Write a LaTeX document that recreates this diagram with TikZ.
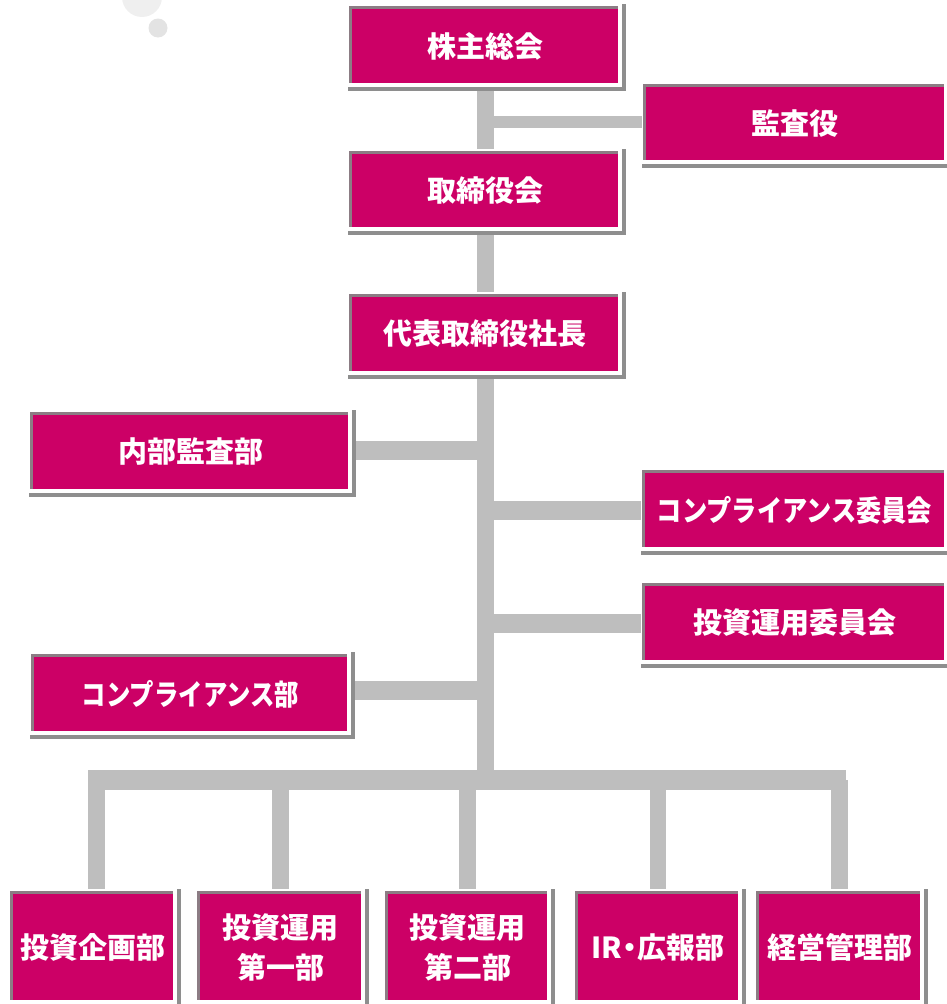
\documentclass[tikz,border=0pt]{standalone}
\usepackage{fontspec}
\usepackage{graphicx}
\newfontfamily\cjk{Noto Sans CJK JP}
\usetikzlibrary{calc}
\definecolor{mag}{HTML}{CC0066}
\definecolor{conng}{HTML}{BEBEBE}
\definecolor{shadg}{HTML}{8E8E8E}
\definecolor{edgeg}{HTML}{8C7C84}
\definecolor{circg}{HTML}{EFEFEF}
\pgfdeclarelayer{connlayer}
\pgfdeclarelayer{shadlayer}
\pgfsetlayers{connlayer,shadlayer,main}
\tikzset{
  orgbox/.style={rectangle, fill=mag, text=white, inner sep=0pt,
    font=\cjk\bfseries\fontsize{29}{40}\selectfont, align=center},
  conn/.style={draw=conng, line cap=butt},
}
\newcommand\obox[6]{\node[orgbox, minimum width=#4, minimum height=#5] (#1) at (#2,#3) {#6};}
\begin{document}
\begin{tikzpicture}[x=1pt,y=-1pt]
\useasboundingbox (0,0) rectangle (946,1004);
% decorative circles
\fill[circg] (142,-3) circle[radius=20pt];
\fill[circg!95!black] (158,28) circle[radius=9.5pt];
% boxes
\obox{n1}{485}{46}{266}{74}{株主総会}
\obox{audit}{795}{123.5}{298}{73}{監査役}
\obox{board}{485}{190.5}{266}{73}{取締役会}
\obox{ceo}{485}{334}{266}{74}{代表取締役社長}
\obox{naibu}{190.5}{452}{315}{74}{内部監査部}
\obox{ccom}{794.5}{510}{299}{74}{\scalebox{0.87}[1]{コンプライアンス委員会}}
\obox{icom}{794.5}{623}{299}{74}{投資運用委員会}
\obox{cdept}{190.5}{694}{313}{74}{\scalebox{0.84}[1]{コンプライアンス部}}
\obox{b1}{93}{947}{160}{106}{投資企画部}
\obox{b2}{280.5}{947}{161}{106}{投資運用\\第一部}
\obox{b3}{467.5}{947}{159}{106}{投資運用\\第二部}
\obox{b4}{658}{947}{160}{106}{IR\kern-7pt・\kern-7pt広報部}
\obox{b5}{839.5}{947}{161}{106}{経営管理部}
\coordinate (busL) at (88,780);
\coordinate (busR) at (846,780);
\coordinate (d1) at ($(b1.north)+(3.5,0)$);
% shadows
\begin{pgfonlayer}{shadlayer}
\foreach \n in {n1,audit,board,ceo,naibu,ccom,icom,cdept,b1,b2,b3,b4,b5}{
  \fill[shadg] ($(\n.north west)+(-4,-5)$) rectangle ($(\n.south east)+(7.5,8)$);
  \fill[white] ($(\n.north west)+(-4,-5)$) rectangle ($(\n.south east)+(3.5,3.5)$);
  \fill[edgeg] ($(\n.north west)+(-2.5,-2.5)$) rectangle (\n.south east);
}
\end{pgfonlayer}
% connectors
\begin{pgfonlayer}{connlayer}
\draw[conn, line width=17] (n1.south) -- (board.north);
\draw[conn, line width=12] ([yshift=1.5pt]n1.south |- audit.west) -- ([yshift=1.5pt]audit.west);
\draw[conn, line width=17] (board.south) -- (ceo.north);
\draw[conn, line width=17] (ceo.south) -- (ceo.south |- busL);
\draw[conn, line width=19] ([yshift=1.5pt]naibu.east) -- ([yshift=1.5pt]ceo.south |- naibu.east);
\draw[conn, line width=19] (ceo.south |- ccom.west) -- (ccom.west);
\draw[conn, line width=19] (ceo.south |- icom.west) -- (icom.west);
\draw[conn, line width=19] ([yshift=3.5pt]cdept.east) -- ([yshift=3.5pt]ceo.south |- cdept.east);
\draw[conn, line width=20] (busL) -- (busR);
\draw[conn, line width=16.5] (d1 |- busL) -- (d1);
\draw[conn, line width=16.5] (b2.north |- busL) -- (b2.north);
\draw[conn, line width=16.5] (b3.north |- busL) -- (b3.north);
\draw[conn, line width=16.5] (b4.north |- busL) -- (b4.north);
\draw[conn, line width=16.5] (b5.north |- busL) -- (b5.north);
\end{pgfonlayer}
\end{tikzpicture}
\end{document}
